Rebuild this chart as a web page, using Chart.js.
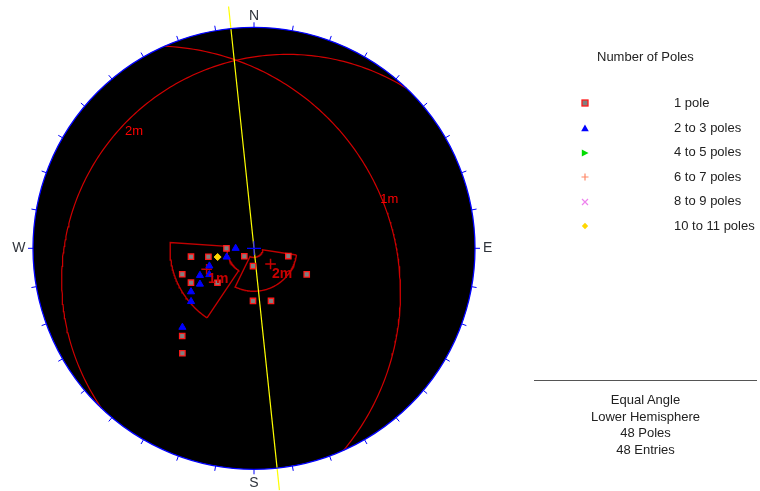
<!DOCTYPE html>
<html>
<head>
<meta charset="utf-8">
<script src="https://cdn.jsdelivr.net/npm/chart.js@4.4.1/dist/chart.umd.min.js"></script>
<style>
  body { margin: 0; background: #fff; }
  #wrap { position: relative; width: 760px; height: 491px; font-family: Arial, "Liberation Sans", sans-serif; color: #222; }
  canvas { position: absolute; left: 0; top: 0; }
  .t { position: absolute; font-size: 13px; line-height: 16px; white-space: nowrap; }
  .mk { position: absolute; width: 10px; height: 10px; }
  #rule { position: absolute; left: 534px; top: 380px; width: 223px; height: 0; border-top: 1px solid #555; }
  #info { position: absolute; left: 534px; top: 392px; width: 223px; text-align: center; font-size: 13px; line-height: 16.5px; }
</style>
</head>
<body>
<div id="wrap">
  <canvas id="c" width="760" height="491"></canvas>
  <div class="t" style="left:597px;top:49px;">Number of Poles</div>
  <div id="legend"></div>
  <div id="rule"></div>
  <div id="info"></div>
</div>
<script>
// ---------------- data ----------------
const legendLabels = ['1 pole', '2 to 3 poles', '4 to 5 poles', '6 to 7 poles', '8 to 9 poles', '10 to 11 poles'];
const infoLines = ['Equal Angle', 'Lower Hemisphere', '48 Poles', '48 Entries'];
const compassLabels = ['N', 'E', 'S', 'W'];
const compassTrends = [0, 90, 180, 270];

// poles: trend / plunge in degrees (lower hemisphere)
const onePoleTrend  = [270, 262.4, 259.5, 230.5, 102.7, 250.1, 241.4, 226.7, 183.2, 116.3, 181.1, 162.1, 219.3, 214.3];
const onePolePlunge = [75.8, 57.9, 66.3, 83.5, 71.9, 51.9, 54.0, 64.4, 80.8, 60.2, 63.2, 61.9, 35.7, 30.2];
const twoToThreeTrend  = [270, 252.3, 248.4, 243.4, 239.6, 236.5, 235.4, 229.8, 222.2];
const twoToThreePlunge = [80.5, 75.2, 65.5, 59.4, 63.6, 57.3, 51.8, 49.1, 38.5];
const fourToFiveTrend = [], fourToFivePlunge = [];
const sixToSevenTrend = [], sixToSevenPlunge = [];
const eightToNineTrend = [], eightToNinePlunge = [];
const tenToElevenTrend  = [256.5];
const tenToElevenPlunge = [70.8];

// mean set poles
const setNames = ['1m', '2m'];
const meanTrend  = [246.1, 133.6];
const meanPlunge = [63.6, 78.2];

// set windows (trend range clockwise, plunge range)
const winTrendFrom  = [214, 99];
const winTrendTo    = [274, 206];
const winPlungeLow  = [48.4, 68];
const winPlungeHigh = [76.1, 85.3];

// traverse / reference line trend
const lineTrend = 354;

// ---------------- projection helpers ----------------
const D = Math.PI / 180;
function proj(trend, plunge) {
  const r = Math.tan((90 - plunge) / 2 * D);
  return { x: r * Math.sin(trend * D), y: r * Math.cos(trend * D) };
}
function polePoints(tr, pl) { return tr.map((t, i) => proj(t, pl[i])); }
function greatCircle(dipDir, dip) {
  const pts = [];
  for (let a = -90; a <= 90; a += 1) {
    const p = Math.atan(Math.tan(dip * D) * Math.cos(a * D)) / D;
    pts.push(proj(dipDir + a, p));
  }
  return pts;
}
function windowOutline(t1, t2, pLow, pHigh) {
  const pts = [], n = Math.max(2, Math.round(t2 - t1));
  for (let i = 0; i <= n; i++) pts.push(proj(t1 + (t2 - t1) * i / n, pLow));
  for (let i = n; i >= 0; i--) pts.push(proj(t1 + (t2 - t1) * i / n, pHigh));
  pts.push(proj(t1, pLow));
  return pts;
}
function lineThrough(trend, ext) {
  return [
    { x: ext * Math.sin(trend * D), y: ext * Math.cos(trend * D) },
    { x: -ext * Math.sin(trend * D), y: -ext * Math.cos(trend * D) }
  ];
}

// ---------------- datasets ----------------
const datasets = [];
// drawn on top first
datasets.push({ label: '1 pole', data: polePoints(onePoleTrend, onePolePlunge), pointStyle: 'rect',
  pointRadius: 3.8, borderWidth: 1.3, borderColor: '#ff1a1a', backgroundColor: '#808080' });
datasets.push({ label: '10 to 11 poles', data: polePoints(tenToElevenTrend, tenToElevenPlunge), pointStyle: 'rectRot',
  pointRadius: 3.5, borderWidth: 1, borderColor: '#ffd700', backgroundColor: '#ffd700' });
datasets.push({ label: '8 to 9 poles', data: polePoints(eightToNineTrend, eightToNinePlunge), pointStyle: 'crossRot',
  pointRadius: 4, borderWidth: 1.2, borderColor: '#ee82ee' });
datasets.push({ label: '6 to 7 poles', data: polePoints(sixToSevenTrend, sixToSevenPlunge), pointStyle: 'cross',
  pointRadius: 4, borderWidth: 1.2, borderColor: '#ff8866' });
datasets.push({ label: '4 to 5 poles', data: polePoints(fourToFiveTrend, fourToFivePlunge), pointStyle: 'triangle', rotation: 90,
  pointRadius: 4, borderWidth: 1, borderColor: '#00dd00', backgroundColor: '#00dd00' });
datasets.push({ label: '2 to 3 poles', data: polePoints(twoToThreeTrend, twoToThreePlunge), pointStyle: 'triangle',
  pointRadius: 4.1, borderWidth: 1, borderColor: '#0000ff', backgroundColor: '#0000ff' });
datasets.push({ label: 'means', data: polePoints(meanTrend, meanPlunge), pointStyle: 'cross',
  pointRadius: 5.3, borderWidth: 1.5, borderColor: '#c80000' });
datasets.push({ label: 'centre', data: [{ x: 0, y: 0 }], pointStyle: 'cross',
  pointRadius: 7, borderWidth: 1.2, borderColor: '#0000ff' });
datasets.push({ label: 'line', data: lineThrough(lineTrend, 1.1), showLine: true, pointRadius: 0,
  borderColor: '#ffff00', borderWidth: 1.2, clip: false });
setNames.forEach((n, i) => {
  datasets.push({ label: 'plane ' + n, data: greatCircle(meanTrend[i] + 180, 90 - meanPlunge[i]), showLine: true,
    pointRadius: 0, borderColor: '#d00000', borderWidth: 1.2 });
});
setNames.forEach((n, i) => {
  datasets.push({ label: 'window ' + n, data: windowOutline(winTrendFrom[i], winTrendTo[i], winPlungeLow[i], winPlungeHigh[i]),
    showLine: true, pointRadius: 0, borderColor: '#c00000', borderWidth: 1.4 });
});

// ---------------- primitive, ticks and labels ----------------
const stereoPlugin = {
  id: 'stereo',
  beforeDatasetsDraw(chart) {
    const { ctx, scales: { x, y } } = chart;
    const cx = x.getPixelForValue(0), cy = y.getPixelForValue(0), R = x.getPixelForValue(1) - cx;
    ctx.save();
    ctx.beginPath(); ctx.arc(cx, cy, R, 0, 2 * Math.PI);
    ctx.fillStyle = '#000'; ctx.fill();
    ctx.restore();
  },
  afterDatasetsDraw(chart) {
    const { ctx, scales: { x, y } } = chart;
    const cx = x.getPixelForValue(0), cy = y.getPixelForValue(0), R = x.getPixelForValue(1) - cx;
    ctx.save();
    ctx.strokeStyle = '#0000ff'; ctx.lineWidth = 1.3;
    ctx.beginPath(); ctx.arc(cx, cy, R, 0, 2 * Math.PI); ctx.stroke();
    ctx.lineWidth = 1;
    for (let t = 0; t < 360; t += 10) {
      const s = Math.sin(t * D), c = Math.cos(t * D);
      ctx.beginPath();
      ctx.moveTo(cx + R * s, cy - R * c);
      ctx.lineTo(cx + (R + 5) * s, cy - (R + 5) * c);
      ctx.stroke();
    }
    // compass
    ctx.fillStyle = '#30343c';
    ctx.font = '14px Arial, "Liberation Sans", sans-serif';
    compassLabels.forEach((lab, i) => {
      const t = compassTrends[i];
      if (t === 0) { ctx.textAlign = 'center'; ctx.textBaseline = 'alphabetic'; ctx.fillText(lab, cx, cy - R - 7.5); }
      else if (t === 180) { ctx.textAlign = 'center'; ctx.textBaseline = 'alphabetic'; ctx.fillText(lab, cx, cy + R + 17.5); }
      else if (t === 90) { ctx.textAlign = 'left'; ctx.textBaseline = 'middle'; ctx.fillText(lab, cx + R + 8, cy); }
      else { ctx.textAlign = 'right'; ctx.textBaseline = 'middle'; ctx.fillText(lab, cx - R - 7.5, cy); }
    });
    // plane labels at the dip point of each mean plane
    ctx.font = '13px Arial, "Liberation Sans", sans-serif';
    ctx.fillStyle = '#ff0000'; ctx.textAlign = 'left'; ctx.textBaseline = 'alphabetic';
    setNames.forEach((n, i) => {
      const p = proj(meanTrend[i] + 180, 90 - meanPlunge[i]);
      ctx.fillText(n, x.getPixelForValue(p.x) + 1, y.getPixelForValue(p.y) + 10.5);
    });
    // set labels at the mean poles
    ctx.font = 'bold 14px Arial, "Liberation Sans", sans-serif';
    ctx.fillStyle = '#c80000';
    setNames.forEach((n, i) => {
      const p = proj(meanTrend[i], meanPlunge[i]);
      ctx.fillText(n, x.getPixelForValue(p.x) + 1.5, y.getPixelForValue(p.y) + 13.5);
    });
    ctx.restore();
  }
};

new Chart(document.getElementById('c'), {
  type: 'scatter',
  data: { datasets },
  options: {
    responsive: false,
    devicePixelRatio: 1,
    animation: false,
    events: [],
    layout: { padding: { left: 33, right: 285, top: 27.3, bottom: 21.7 } },
    scales: {
      x: { type: 'linear', min: -1, max: 1, display: false },
      y: { type: 'linear', min: -1, max: 1, display: false }
    },
    plugins: { legend: { display: false }, tooltip: { enabled: false } }
  },
  plugins: [stereoPlugin]
});

// ---------------- legend & info (HTML) ----------------
const markerSvgs = [
  '<rect x="2" y="2" width="6" height="6" fill="#808080" stroke="#ff1a1a" stroke-width="1.3"/>',
  '<polygon points="5,1.5 8.8,8.3 1.2,8.3" fill="#0000ff"/>',
  '<polygon points="1.8,1.6 8.6,5 1.8,8.4" fill="#00dd00"/>',
  '<path d="M5 1.5V8.5M1.5 5H8.5" stroke="#ff8866" stroke-width="1.2" fill="none"/>',
  '<path d="M2 2L8 8M8 2L2 8" stroke="#ee82ee" stroke-width="1.2" fill="none"/>',
  '<polygon points="5,1.8 8.2,5 5,8.2 1.8,5" fill="#ffd700"/>'
];
const legendY = [103, 128, 152.5, 177, 201.5, 226];
const leg = document.getElementById('legend');
legendLabels.forEach((lab, i) => {
  const cyy = legendY[i];
  leg.insertAdjacentHTML('beforeend',
    '<svg class="mk" style="left:580px;top:' + (cyy - 5) + 'px" viewBox="0 0 10 10">' + markerSvgs[i] + '</svg>' +
    '<div class="t" style="left:674px;top:' + (cyy - 8.5) + 'px">' + lab + '</div>');
});
document.getElementById('info').innerHTML = infoLines.map(s => '<div>' + s + '</div>').join('');
</script>
</body>
</html>
